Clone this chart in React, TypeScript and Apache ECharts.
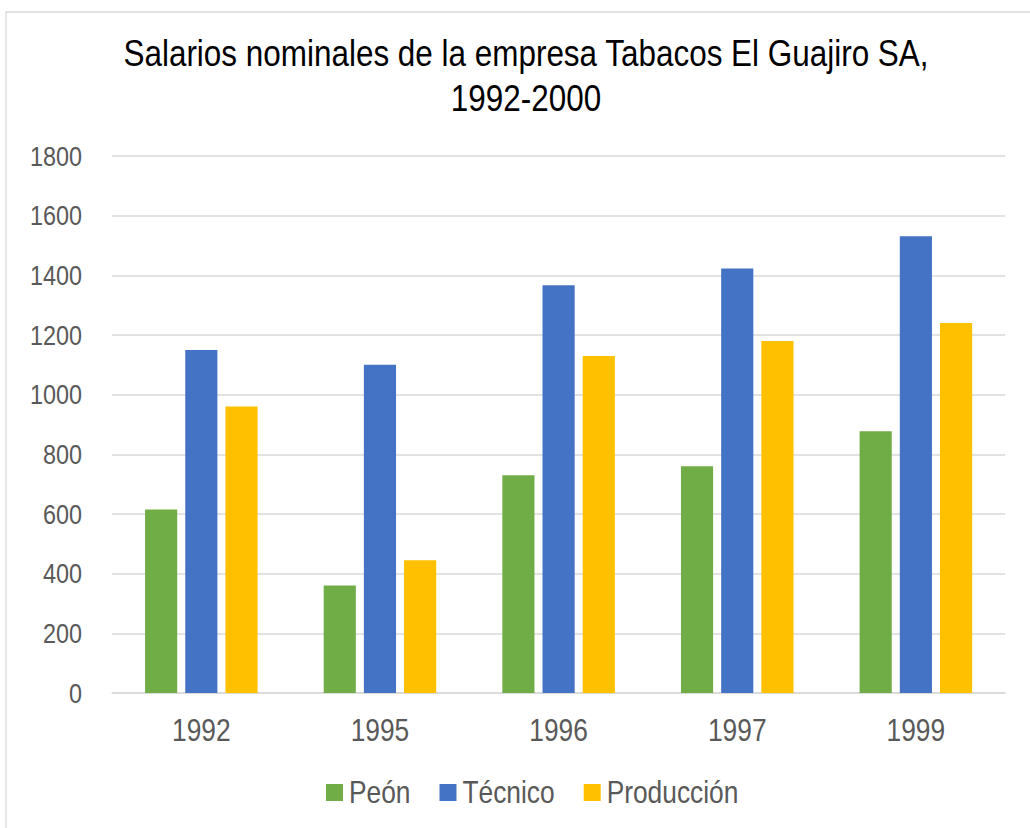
import React, { useEffect, useRef } from "react";
import * as echarts from "echarts";

const years = ["1992", "1995", "1996", "1997", "1999"];
const peon = [615, 360, 730, 760, 877];
const tecnico = [1150, 1100, 1367, 1423, 1531];
const produccion = [960, 445, 1130, 1180, 1240];
const seriesNames = ["Peón", "Técnico", "Producción"];
const seriesColors = ["#70AD47", "#4472C4", "#FFC000"];
const titleLines = ["Salarios nominales de la empresa Tabacos El Guajiro SA,", "1992-2000"];
const yMin = 0;
const yMax = 1800;
const yStep = 200;

// The reference uses a narrow sans (Arial Narrow). None is installed, so the chart is laid out
// in a wider box and compressed horizontally to emulate the condensed face.
const SX = 0.85;
const W = 1030 / SX;
const H = 828;
const X = (px: number) => px / SX;
const FONT = '"Liberation Sans", Arial, sans-serif';

export default function App() {
  const ref = useRef<HTMLDivElement>(null);
  useEffect(() => {
    if (!ref.current) return;
    const chart = echarts.init(ref.current, undefined, { renderer: "svg" });
    const data = [peon, tecnico, produccion];
    chart.setOption({
      animation: false,
      backgroundColor: "#ffffff",
      textStyle: { fontFamily: FONT },
      graphic: [
        {
          type: "rect",
          shape: { x: X(6), y: 12, width: W + 40, height: 840 },
          style: { fill: "none", stroke: "#d9d9d9", lineWidth: 1.5 },
          silent: true,
        },
        {
          type: "text",
          x: X(526),
          y: 31,
          style: {
            text: titleLines.join("\n"),
            fontFamily: FONT,
            fontSize: 37,
            lineHeight: 45,
            fill: "#000000",
            align: "center",
            verticalAlign: "top",
          },
        },
      ],
      legend: {
        data: seriesNames,
        left: X(326),
        top: 777,
        padding: 0,
        icon: "rect",
        itemWidth: X(17),
        itemHeight: 17,
        itemGap: X(29),
        textStyle: { fontFamily: FONT, fontSize: 31, color: "#595959", padding: [0, 0, 0, 2] },
      },
      grid: { left: X(112), right: W - X(1005), top: 156, bottom: 135, containLabel: false },
      xAxis: {
        type: "category",
        data: years,
        axisTick: { show: false },
        axisLine: { lineStyle: { color: "#d9d9d9", width: 1.5 } },
        axisLabel: { fontFamily: FONT, fontSize: 31, color: "#595959", margin: 22 },
      },
      yAxis: {
        type: "value",
        min: yMin,
        max: yMax,
        interval: yStep,
        axisLine: { show: false },
        axisTick: { show: false },
        splitLine: { lineStyle: { color: "#d9d9d9", width: 1.5 } },
        axisLabel: {
          fontFamily: FONT,
          fontSize: 27.5,
          color: "#595959",
          margin: X(112) - X(82),
          formatter: (v: number) => String(v),
        },
      },
      series: seriesNames.map((name, i) => ({
        name,
        type: "bar",
        data: data[i],
        barGap: "25%",
        barCategoryGap: "37%",
        itemStyle: { color: seriesColors[i] },
      })),
    });
    return () => chart.dispose();
  }, []);
  return (
    <div
      style={{ position: "absolute", left: 0, top: 0, width: 1030, height: H, overflow: "hidden" }}
    >
      <div
        ref={ref}
        style={{
          width: W,
          height: H,
          transform: `scaleX(${SX})`,
          transformOrigin: "0 0",
        }}
      />
    </div>
  );
}
